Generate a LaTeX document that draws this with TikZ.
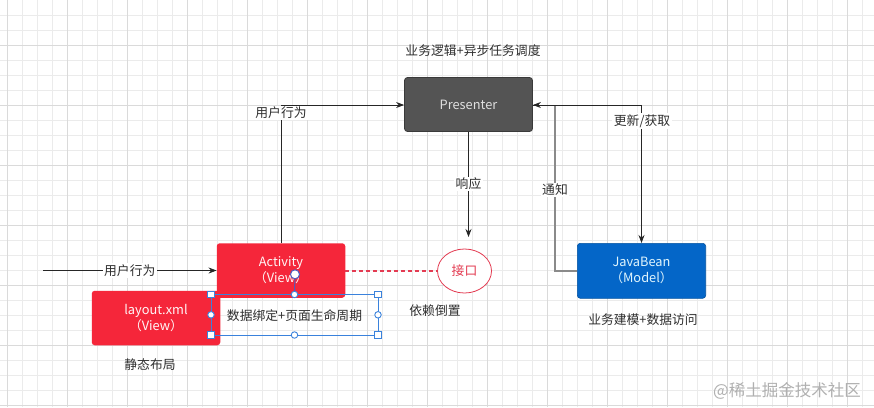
\documentclass[tikz,border=0pt]{standalone}
\usepackage{fontspec}
\setmainfont{Noto Sans CJK SC}
\usetikzlibrary{arrows.meta,shapes.geometric}
\definecolor{gridminor}{HTML}{EBEBEB}
\definecolor{gridmajor}{HTML}{DADADA}
\definecolor{presfill}{HTML}{545454}
\definecolor{presdraw}{HTML}{3A3A3A}
\definecolor{viewred}{HTML}{F5263A}
\definecolor{modelblue}{HTML}{0466C8}
\definecolor{ifred}{HTML}{E33A50}
\definecolor{dashred}{HTML}{E43B52}
\definecolor{selblue}{HTML}{3A82DC}
\definecolor{txtgray}{HTML}{2E2E2E}
\definecolor{notegray}{HTML}{8A8A8A}
\definecolor{wmgray}{HTML}{B0B0B0}
\begin{document}
\begin{tikzpicture}[x=1pt,y=-1pt,
  gridline/.style={gridminor,line width=0.8pt},
  gridbold/.style={gridmajor,line width=0.8pt},
  box/.style={rectangle,rounded corners=3pt,align=center,inner sep=0pt,
    font=\fontsize{12.8}{16}\selectfont},
  presbox/.style={box,fill=presfill,draw=presdraw,line width=0.8pt,text=white!88!black,
    minimum width=128pt,minimum height=54pt},
  viewbox/.style={box,fill=viewred,text=white!85!pink,minimum width=128.5pt,minimum height=54.5pt},
  modelbox/.style={box,fill=modelblue,draw=modelblue!80!black,line width=0.6pt,text=white!88!cyan,
    minimum width=128.4pt,minimum height=55pt},
  ifnode/.style={ellipse,draw=ifred,line width=0.8pt,fill=white,text=ifred,
    minimum width=54pt,minimum height=44pt,inner sep=0pt,font=\fontsize{12.8}{15}\selectfont},
  lbl/.style={text=txtgray,inner sep=1.5pt,font=\fontsize{12.8}{15}\selectfont},
  onlbl/.style={lbl,fill=white},
  conn/.style={black!85,line width=0.8pt},
  arr/.style={conn,-{Stealth[length=8pt,width=6pt]}},
  selline/.style={selblue,line width=0.7pt},
  hsq/.style={rectangle,draw=selblue,fill=white,line width=0.9pt,minimum size=6.5pt,inner sep=0pt},
  hci/.style={circle,draw=selblue,fill=white,line width=0.9pt,minimum size=6.5pt,inner sep=0pt},
  hrot/.style={circle,draw=selblue!70!violet,fill=white,line width=1pt,minimum size=9pt,inner sep=0pt}
]
\useasboundingbox (0,0) rectangle (874,407);
\fill[white] (0,0) rectangle (874,407);
% grid
\foreach \i in {0,...,58} {\draw[gridline] (7.3+15*\i,0) -- (7.3+15*\i,407);}
\foreach \j in {1,...,27} {\draw[gridline] (0,15*\j) -- (874,15*\j);}
\foreach \i in {0,...,14} {\draw[gridbold] (7.3+60*\i,0) -- (7.3+60*\i,407);}
\foreach \j in {0,...,6} {\draw[gridbold] (0,45+60*\j) -- (874,45+60*\j);}

% nodes
\node[presbox] (pres) at (468.5,104.5) {Presenter};
\node[viewbox] (act) at (281,270.5) {Activity\\（View）};
\node[viewbox] (lay) at (156,318) {layout.xml\\（View）};
\node[modelbox] (bean) at (641.5,270.8) {JavaBean\\（Model）};
\node[ifnode] (if) at (464.5,271) {接口};

% coordinates
\coordinate (ustart) at (43,270.5);
\coordinate (ucorner) at (281,105);
\coordinate (rcorner) at (641.5,105);
\coordinate (ncornerA) at (555,271);
\coordinate (ncornerB) at (555,105);
\coordinate (resp) at (468.5,237);

% connectors
\draw[arr] (ustart) -- (act.west |- ustart) node[onlbl,midway] {用户行为};
\draw[arr] (act.north) -- (ucorner) -- (pres.west |- ucorner);
\node[onlbl] at (281,113) {用户行为};
\draw[arr] (pres.south) -- (resp);
\draw[notegray,line width=1.3pt] (bean.west |- ncornerA) -- (ncornerA) -- (ncornerB);
\draw[arr] (ncornerB) -- (pres.east |- ncornerB);
\draw[arr] (pres.east |- rcorner) -- (rcorner) -- (bean.north);
\node[onlbl] at (468.5,184) {响应};
\node[onlbl] at (555,190) {通知};
\node[onlbl] at (642,121) {更新/获取};
\draw[dashred,line width=1.1pt,dash pattern=on 4pt off 3pt] (act.east |- if) -- (if.west);

% static labels
\node[lbl] at (473,51) {业务逻辑+异步任务调度};
\node[lbl] at (643,319.5) {业务建模+数据访问};
\node[lbl] at (435,310.5) {依赖倒置};
\node[lbl] at (150,364.5) {静态布局};

% selection box
\coordinate (s1) at (211,294.5);
\coordinate (s2) at (378,335);
\draw[selline] (s1) rectangle (s2);
\node[lbl] (bind) at (294.5,315.5) {数据绑定+页面生命周期};
\draw[selblue!70!violet,line width=1pt] (295,274.3) -- (294.5,294.5);
\node[hrot] at (295,274.3) {};
\node[hsq] at (211,294.5) {};
\node[hsq] at (378,294.5) {};
\node[hsq] at (211,335) {};
\node[hsq] at (378,335) {};
\node[hci] at (294.5,294.5) {};
\node[hci] at (294.5,335) {};
\node[hci] at (211,314.8) {};
\node[hci] at (378,314.8) {};

% watermark
\node[text=wmgray,inner sep=0pt,font=\fontsize{16.5}{18}\selectfont] at (787,391) {@稀土掘金技术社区};
\end{tikzpicture}
\end{document}
